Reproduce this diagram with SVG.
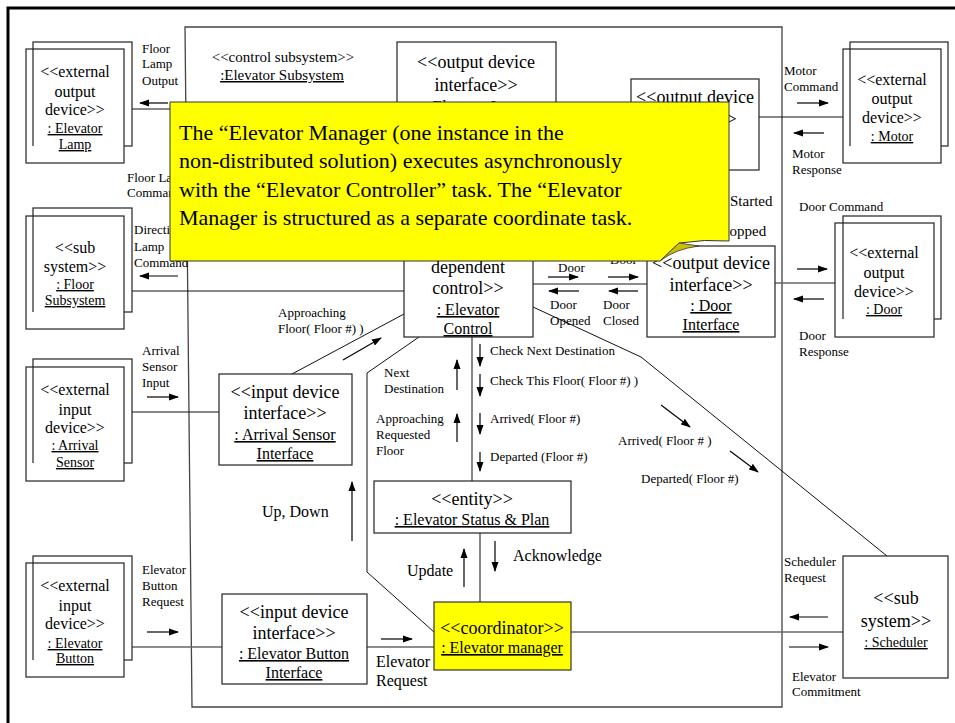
<svg xmlns="http://www.w3.org/2000/svg" width="955" height="723" viewBox="0 0 955 723">
<style>
text{font-family:"Liberation Serif","Times New Roman",serif;fill:#000}
.st{font-size:18px;text-anchor:middle}
.nm{font-size:16px;text-anchor:middle;text-decoration:underline}
.xs{font-size:16px;text-anchor:middle}
.xn{font-size:14px;text-anchor:middle;text-decoration:underline}
.lb{font-size:13px}
.lm{font-size:16px}
.box{fill:#fff;stroke:#222;stroke-width:1.2}
.bk{fill:none;stroke:#222;stroke-width:1.2}
.ln{fill:none;stroke:#111;stroke-width:1}
.gl{fill:none;stroke:#666;stroke-width:1.6}
.ar{fill:none;stroke:#000;stroke-width:1.2;marker-end:url(#ah)}
</style>
<defs>
<marker id="ah" markerWidth="10" markerHeight="8" refX="9" refY="4" orient="auto" markerUnits="userSpaceOnUse"><path d="M0,0.5 L10,4 L0,7.5 Z" fill="#000"/></marker>
</defs>
<rect width="955" height="723" fill="#fff"/>
<!-- page frame -->
<path d="M8,723 V8 H955" fill="none" stroke="#000" stroke-width="3"/>

<!-- control subsystem boundary -->
<g id="elevator-subsystem">
<path d="M185,27 L782,27 L782,707 L192,707 Z" fill="none" stroke="#444" stroke-width="1.3"/>
<text class="lm" x="283" y="62" text-anchor="middle" style="font-size:15px">&lt;&lt;control subsystem&gt;&gt;</text>
<text class="lm" x="282" y="80" text-anchor="middle" style="font-size:15px;text-decoration:underline">:Elevator Subsystem</text>
</g>

<!-- connectors -->
<g id="connectors">
<line class="ln" x1="132" y1="109" x2="397" y2="109"/>
<line class="ln" x1="132" y1="291" x2="404" y2="291"/>
<line class="ln" x1="132" y1="412" x2="219" y2="412"/>
<line class="gl" x1="132" y1="647" x2="222" y2="647"/>
<line class="ln" x1="292" y1="374" x2="404" y2="314"/>
<polyline class="ln" points="419,337 367,373 367,572 434,632"/>
<line class="ln" x1="472" y1="337" x2="472" y2="481"/>
<line class="gl" x1="480" y1="533" x2="480" y2="602"/>
<line class="gl" x1="367" y1="647" x2="434" y2="647"/>
<line class="gl" x1="571" y1="632" x2="843" y2="632"/>
<line class="gl" x1="533" y1="284" x2="647" y2="284"/>
<line class="gl" x1="775" y1="283" x2="835" y2="283"/>
<line class="ln" x1="759" y1="117" x2="843" y2="117"/>
<polyline class="ln" points="533,307 641,357 887,556"/>

<!-- message arrows -->
<line class="ar" x1="168" y1="103" x2="140" y2="103"/>
<line class="ar" x1="178" y1="276" x2="140" y2="276"/>
<line class="ar" x1="147" y1="397" x2="178" y2="397"/>
<line class="ar" x1="147" y1="632" x2="178" y2="632"/>
<line class="ar" x1="343" y1="360" x2="381" y2="338"/>
<line class="ar" x1="457" y1="390" x2="457" y2="360"/>
<line class="ar" x1="457" y1="442" x2="457" y2="414"/>
<line class="ar" x1="480" y1="344" x2="480" y2="366"/>
<line class="ar" x1="480" y1="374" x2="480" y2="396"/>
<line class="ar" x1="480" y1="413" x2="480" y2="434"/>
<line class="ar" x1="480" y1="452" x2="480" y2="471"/>
<line class="ar" x1="548" y1="277" x2="578" y2="277"/>
<line class="ar" x1="608" y1="277" x2="638" y2="277"/>
<line class="ar" x1="579" y1="291" x2="549" y2="291"/>
<line class="ar" x1="638" y1="291" x2="609" y2="291"/>
<line class="ar" x1="797" y1="103" x2="828" y2="103"/>
<line class="ar" x1="824" y1="133" x2="794" y2="133"/>
<line class="ar" x1="797" y1="269" x2="827" y2="269"/>
<line class="ar" x1="824" y1="299" x2="794" y2="299"/>
<line class="ar" x1="661" y1="405" x2="690" y2="427"/>
<line class="ar" x1="730" y1="451" x2="758" y2="472"/>
<line class="ar" x1="352" y1="541" x2="352" y2="482"/>
<line class="ar" x1="464" y1="587" x2="464" y2="549"/>
<line class="ar" x1="495" y1="541" x2="495" y2="571"/>
<line class="ar" x1="381" y1="639" x2="412" y2="639"/>
<line class="ar" x1="828" y1="617" x2="790" y2="617"/>
<line class="ar" x1="789" y1="647" x2="828" y2="647"/>

<!-- message labels -->
<text class="lb" x="142" y="53">Floor</text>
<text class="lb" x="142" y="68">Lamp</text>
<text class="lb" x="142" y="85">Output</text>
<text class="lb" x="127" y="182">Floor Lamp</text>
<text class="lb" x="127" y="197">Command</text>
<text class="lb" x="134" y="234">Direction</text>
<text class="lb" x="134" y="251">Lamp</text>
<text class="lb" x="134" y="267">Command</text>
<text class="lb" x="142" y="355">Arrival</text>
<text class="lb" x="142" y="371">Sensor</text>
<text class="lb" x="142" y="387">Input</text>
<text class="lb" x="142" y="574">Elevator</text>
<text class="lb" x="142" y="590">Button</text>
<text class="lb" x="142" y="606">Request</text>
<text class="lb" x="278" y="317">Approaching</text>
<text class="lb" x="278" y="333">Floor( Floor #) )</text>
<text class="lb" x="384" y="377">Next</text>
<text class="lb" x="384" y="393">Destination</text>
<text class="lb" x="376" y="423">Approaching</text>
<text class="lb" x="376" y="439">Requested</text>
<text class="lb" x="376" y="455">Floor</text>
<text class="lb" x="490" y="355">Check Next Destination</text>
<text class="lb" x="490" y="385">Check This Floor( Floor #) )</text>
<text class="lb" x="490" y="423">Arrived( Floor #)</text>
<text class="lb" x="490" y="461">Departed (Floor #)</text>
<text class="lb" x="558" y="272">Door</text>
<text class="lb" x="610" y="264">Door</text>
<text class="lb" x="550" y="309">Door</text>
<text class="lb" x="550" y="325">Opened</text>
<text class="lb" x="603" y="309">Door</text>
<text class="lb" x="603" y="325">Closed</text>
<text class="lb" x="730" y="206" style="font-size:15px">Started</text>
<text class="lb" x="717" y="236" style="font-size:15px">Stopped</text>
<text class="lb" x="784" y="75">Motor</text>
<text class="lb" x="784" y="91">Command</text>
<text class="lb" x="792" y="158">Motor</text>
<text class="lb" x="792" y="174">Response</text>
<text class="lb" x="799" y="211">Door Command</text>
<text class="lb" x="799" y="340">Door</text>
<text class="lb" x="799" y="356">Response</text>
<text class="lb" x="618" y="445">Arrived( Floor # )</text>
<text class="lb" x="641" y="483">Departed( Floor #)</text>
<text class="lb" x="784" y="566">Scheduler</text>
<text class="lb" x="784" y="582">Request</text>
<text class="lb" x="792" y="681">Elevator</text>
<text class="lb" x="792" y="696">Commitment</text>
<text class="lm" x="376" y="667">Elevator</text>
<text class="lm" x="376" y="686">Request</text>
<text class="lm" x="262" y="517">Up, Down</text>
<text class="lm" x="407" y="576">Update</text>
<text class="lm" x="513" y="561">Acknowledge</text>
</g>

<!-- external devices -->
<g id="elevator-lamp">
<rect class="bk" x="33" y="42" width="99" height="104"/>
<rect class="box" x="26" y="49" width="98" height="114"/>
<line class="bk" x1="33" y1="49" x2="33" y2="146"/>
<text class="xs" x="75" y="77">&lt;&lt;external</text>
<text class="xs" x="75" y="97">output</text>
<text class="xs" x="75" y="115">device&gt;&gt;</text>
<text class="xn" x="75" y="133">: Elevator</text>
<text class="xn" x="75" y="149">Lamp</text>
</g>
<g id="floor-subsystem">
<rect class="bk" x="33" y="208" width="99" height="104"/>
<rect class="box" x="26" y="216" width="98" height="113"/>
<line class="bk" x1="33" y1="216" x2="33" y2="312"/>
<text class="xs" x="75" y="253">&lt;&lt;sub</text>
<text class="xs" x="75" y="272">system&gt;&gt;</text>
<text class="xn" x="75" y="289">: Floor</text>
<text class="xn" x="75" y="305">Subsystem</text>
</g>
<g id="arrival-sensor">
<rect class="bk" x="33" y="359" width="99" height="104"/>
<rect class="box" x="26" y="367" width="98" height="114"/>
<line class="bk" x1="33" y1="367" x2="33" y2="463"/>
<text class="xs" x="75" y="395">&lt;&lt;external</text>
<text class="xs" x="75" y="415">input</text>
<text class="xs" x="75" y="433">device&gt;&gt;</text>
<text class="xn" x="75" y="450">: Arrival</text>
<text class="xn" x="75" y="467">Sensor</text>
</g>
<g id="elevator-button">
<rect class="bk" x="33" y="556" width="99" height="104"/>
<rect class="box" x="26" y="563" width="98" height="114"/>
<line class="bk" x1="33" y1="563" x2="33" y2="660"/>
<text class="xs" x="75" y="591">&lt;&lt;external</text>
<text class="xs" x="75" y="611">input</text>
<text class="xs" x="75" y="629">device&gt;&gt;</text>
<text class="xn" x="75" y="648">: Elevator</text>
<text class="xn" x="75" y="663">Button</text>
</g>
<g id="motor">
<rect class="bk" x="850" y="42" width="98" height="104"/>
<rect class="box" x="843" y="49" width="98" height="114"/>
<line class="bk" x1="850" y1="49" x2="850" y2="146"/>
<text class="xs" x="892" y="85">&lt;&lt;external</text>
<text class="xs" x="892" y="104">output</text>
<text class="xs" x="892" y="123">device&gt;&gt;</text>
<text class="xn" x="892" y="141">: Motor</text>
</g>
<g id="door">
<rect class="bk" x="843" y="216" width="98" height="103"/>
<rect class="box" x="835" y="223" width="99" height="114"/>
<line class="bk" x1="843" y1="223" x2="843" y2="319"/>
<text class="xs" x="884" y="258">&lt;&lt;external</text>
<text class="xs" x="884" y="278">output</text>
<text class="xs" x="884" y="297">device&gt;&gt;</text>
<text class="xn" x="884" y="314">: Door</text>
</g>
<g id="scheduler">
<rect class="box" x="843" y="556" width="105" height="122"/>
<text class="st" x="896" y="604">&lt;&lt;sub</text>
<text class="st" x="896" y="627">system&gt;&gt;</text>
<text class="xn" x="896" y="647">: Scheduler</text>
</g>

<!-- internal objects -->
<g id="elevator-lamp-interface">
<rect class="box" x="397" y="42" width="159" height="118"/>
<text class="st" x="476" y="68">&lt;&lt;output device</text>
<text class="st" x="476" y="91">interface&gt;&gt;</text>
<text class="nm" x="476" y="112">: Elevator Lamp</text>
</g>
<g id="motor-interface">
<rect class="box" x="631" y="79" width="128" height="91"/>
<text class="st" x="695" y="103">&lt;&lt;output device</text>
<text class="st" x="695" y="125">interface&gt;&gt;</text>
</g>
<g id="elevator-control">
<rect class="box" x="404" y="228" width="129" height="109"/>
<text class="st" x="468" y="252">&lt;&lt;state</text>
<text class="st" x="468" y="273">dependent</text>
<text class="st" x="468" y="294">control&gt;&gt;</text>
<text class="nm" x="468" y="315">: Elevator</text>
<text class="nm" x="468" y="334">Control</text>
</g>
<g id="door-interface">
<rect class="box" x="647" y="246" width="128" height="91"/>
<text class="st" x="711" y="269">&lt;&lt;output device</text>
<text class="st" x="711" y="291">interface&gt;&gt;</text>
<text class="nm" x="711" y="311">: Door</text>
<text class="nm" x="711" y="330">Interface</text>
</g>
<g id="arrival-sensor-interface">
<rect class="box" x="219" y="374" width="133" height="91"/>
<text class="st" x="285" y="398">&lt;&lt;input device</text>
<text class="st" x="285" y="419">interface&gt;&gt;</text>
<text class="nm" x="285" y="440">: Arrival Sensor</text>
<text class="nm" x="285" y="459">Interface</text>
</g>
<g id="elevator-button-interface">
<rect class="box" x="222" y="594" width="145" height="90"/>
<text class="st" x="294" y="618">&lt;&lt;input device</text>
<text class="st" x="294" y="639">interface&gt;&gt;</text>
<text class="nm" x="294" y="659">: Elevator Button</text>
<text class="nm" x="294" y="678">Interface</text>
</g>
<g id="elevator-status-plan">
<rect class="box" x="374" y="481" width="197" height="52"/>
<text class="st" x="472" y="505">&lt;&lt;entity&gt;&gt;</text>
<text class="nm" x="472" y="525">: Elevator Status &amp; Plan</text>
</g>
<g id="elevator-manager">
<rect x="434" y="602" width="137" height="68" fill="#ffff00" stroke="#333" stroke-width="1.2"/>
<text class="st" x="502" y="634">&lt;&lt;coordinator&gt;&gt;</text>
<text class="nm" x="502" y="653">: Elevator manager</text>
</g>

<!-- note with folded corner -->
<g id="note">
<path d="M170,102 H729 V241 Q705,239 679,243 L660,261 H170 Z" fill="#ffff00" stroke="#333" stroke-width="1"/>
<path d="M679,243 L660,261 Q675,249 699,246 Z" fill="#c8c000" stroke="#333" stroke-width="0.8"/>
<text x="179" y="140" style="font-size:22px">The “Elevator Manager (one instance in the</text>
<text x="179" y="168" style="font-size:22px">non-distributed solution) executes asynchronously</text>
<text x="179" y="197" style="font-size:22px">with the “Elevator Controller” task. The “Elevator</text>
<text x="179" y="225" style="font-size:22px">Manager is structured as a separate coordinate task.</text>
</g>
</svg>
